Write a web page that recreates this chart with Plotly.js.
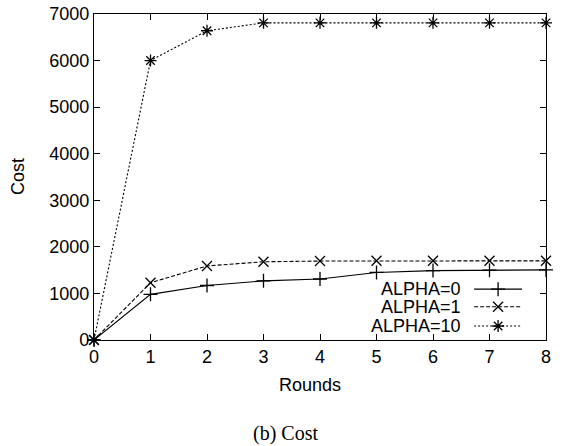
<!DOCTYPE html>
<html><head><meta charset="utf-8">
<script src="https://cdn.plot.ly/plotly-3.0.1.min.js"></script>
<style>html,body{margin:0;padding:0;background:#fff}#chart{width:564px;height:446px}</style>
</head><body><div id="chart"></div>
<script>
const rounds = [0,1,2,3,4,5,6,7,8];
const alpha0 = [0,980,1170,1270,1310,1450,1490,1500,1505];
const alpha1 = [0,1230,1590,1680,1695,1700,1700,1700,1700];
const alpha10 = [0,6000,6640,6810,6810,6810,6810,6810,6810];
const seriesNames = ['ALPHA=0','ALPHA=1','ALPHA=10'];
const xTicks = [0,1,2,3,4,5,6,7,8];
const yTicks = [0,1000,2000,3000,4000,5000,6000,7000];

const symbols = ['cross-thin-open','x-thin-open','asterisk-open'];
const dashes = ['solid','4px,2px','2px,2px'];
const seriesData = [alpha0, alpha1, alpha10];
const font = {family:'Liberation Sans, Arial, sans-serif', size:18, color:'#000'};

const traces = seriesData.map((ys,i)=>({
  x: rounds, y: ys, type:'scatter', mode:'lines+markers', name: seriesNames[i],
  line:{color:'#000', width:1.1, dash:dashes[i]},
  marker:{symbol:symbols[i], size:10, color:'#000', line:{color:'#000', width:1.3}},
  showlegend:false, cliponaxis:false
}));

// custom legend (text left of sample, like gnuplot)
const legY = [0.156, 0.102, 0.043];
const annotations = [];
seriesNames.forEach((n,i)=>{
  traces.push({
    x:[0.841,0.894,0.947], y:[legY[i],legY[i],legY[i]], xaxis:'x2', yaxis:'y2',
    type:'scatter', mode:'lines', line:{color:'#000', width:1.1, dash:dashes[i]},
    showlegend:false, hoverinfo:'skip'
  });
  traces.push({
    x:[0.894], y:[legY[i]], xaxis:'x2', yaxis:'y2', type:'scatter', mode:'markers',
    marker:{symbol:symbols[i], size:10, color:'#000', line:{color:'#000', width:1.3}},
    showlegend:false, hoverinfo:'skip'
  });
  annotations.push({xref:'x2', yref:'y2', x:0.816, y:legY[i], xanchor:'right', yanchor:'middle',
    text:n, showarrow:false, font:font});
});
annotations.push({xref:'paper', yref:'paper', x:0.478, y:-0.138, xanchor:'center', yanchor:'middle',
  text:'Rounds', showarrow:false, font:font});
annotations.push({xref:'paper', yref:'paper', x:-0.168, y:0.5, xanchor:'center', yanchor:'middle',
  text:'Cost', textangle:-90, showarrow:false, font:font});
annotations.push({xref:'paper', yref:'paper', x:0.423, y:-0.288, xanchor:'center', yanchor:'middle',
  text:'(b) Cost', showarrow:false, font:{family:'Liberation Serif, Times New Roman, serif', size:20, color:'#000'}});

const layout = {
  width:564, height:446,
  margin:{l:94, r:18, t:14, b:106},
  paper_bgcolor:'#fff', plot_bgcolor:'#fff',
  font: font,
  showlegend:false,
  xaxis:{range:[0,8], tickvals:xTicks, ticktext:xTicks.map(String), ticks:'inside', ticklen:6,
    tickcolor:'#000', tickwidth:1, showgrid:false, zeroline:false, showline:true, linecolor:'#000',
    linewidth:1.2, mirror:'ticks', tickfont:font, fixedrange:true},
  yaxis:{range:[0,7000], tickvals:yTicks, ticktext:yTicks.map(String), ticks:'inside', ticklen:6,
    tickcolor:'#000', tickwidth:1, showgrid:false, zeroline:false, showline:true, linecolor:'#000',
    linewidth:1.2, mirror:'ticks', tickfont:font, fixedrange:true},
  xaxis2:{domain:[0,1], range:[0,1], overlaying:'x', visible:false, fixedrange:true},
  yaxis2:{domain:[0,1], range:[0,1], overlaying:'y', visible:false, fixedrange:true},
  annotations: annotations
};
Plotly.newPlot('chart', traces, layout, {displayModeBar:false, staticPlot:true});
</script></body></html>
